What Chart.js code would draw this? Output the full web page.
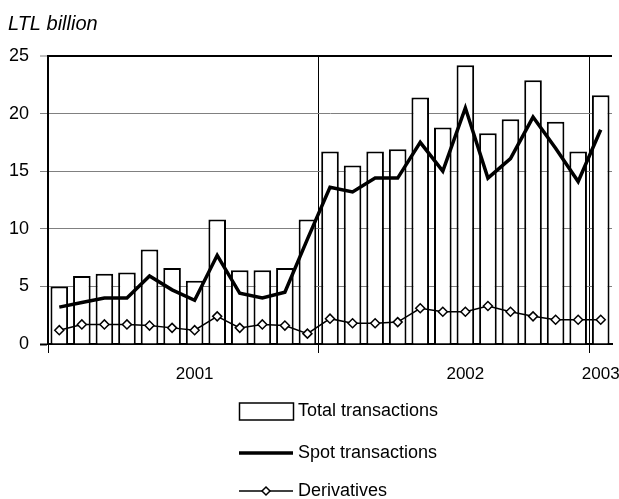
<!DOCTYPE html>
<html><head><meta charset="utf-8">
<script src="https://cdn.jsdelivr.net/npm/chart.js@4/dist/chart.umd.min.js"></script>
<style>html,body{margin:0;padding:0;background:#fff;}#wrap{width:619px;height:499px;position:relative;}</style>
</head><body><div id="wrap"><canvas id="c"></canvas></div>
<script>
const months = ['2001-01','2001-02','2001-03','2001-04','2001-05','2001-06','2001-07','2001-08','2001-09','2001-10','2001-11','2001-12',
                '2002-01','2002-02','2002-03','2002-04','2002-05','2002-06','2002-07','2002-08','2002-09','2002-10','2002-11','2002-12','2003-01'];
const xTickLabels = ['','','','','','','2001','','','','','','','','','','','','2002','','','','','','2003'];
const yTicks = [0,5,10,15,20,25];
const totalTransactions = [5.0,5.9,6.1,6.2,8.2,6.6,5.5,10.8,6.4,6.4,6.6,10.8,16.7,15.5,16.7,16.9,21.4,18.8,24.2,18.3,19.5,22.9,19.3,16.7,21.6];
const spotTransactions  = [3.2,3.6,4.0,4.0,5.9,4.7,3.8,7.7,4.4,4.0,4.5,9.1,13.6,13.2,14.4,14.4,17.5,15.0,20.5,14.4,16.1,19.7,17.0,14.1,18.6];
const derivatives       = [1.2,1.7,1.7,1.7,1.6,1.4,1.2,2.4,1.4,1.7,1.6,0.9,2.2,1.8,1.8,1.9,3.1,2.8,2.8,3.3,2.8,2.4,2.1,2.1,2.1];
const seriesNames = ['Total transactions','Spot transactions','Derivatives'];
const unitLabel = 'LTL billion';

const FONT = '"Liberation Sans Narrow", "Liberation Sans", Arial, sans-serif';
const yearBoundaries = [12, 24];

const extras = {
  id: 'extras',
  afterDraw(chart) {
    const ctx = chart.ctx;
    const ds = chart.data.datasets;
    ctx.save();
    ctx.fillStyle = '#000';
    ctx.textBaseline = 'middle';
    ctx.textAlign = 'left';
    ctx.font = 'italic 20px ' + FONT;
    ctx.fillText(unitLabel, 8, 24);
    ctx.font = '18px ' + FONT;
    const x0 = 239, x1 = 293, tx = 298;
    const rows = [411, 453, 491];
    ctx.fillStyle = ds[0].backgroundColor;
    ctx.strokeStyle = ds[0].borderColor;
    ctx.lineWidth = 1.5;
    ctx.fillRect(x0 + 0.5, rows[0] - 8, x1 - x0, 17);
    ctx.strokeRect(x0 + 0.5, rows[0] - 8, x1 - x0, 17);
    ctx.beginPath();
    ctx.strokeStyle = ds[1].borderColor;
    ctx.lineWidth = ds[1].borderWidth;
    ctx.moveTo(x0, rows[1]); ctx.lineTo(x1, rows[1]); ctx.stroke();
    ctx.beginPath();
    ctx.strokeStyle = ds[2].borderColor;
    ctx.lineWidth = ds[2].borderWidth;
    ctx.moveTo(x0, rows[2]); ctx.lineTo(x1, rows[2]); ctx.stroke();
    const cx = (x0 + x1) / 2, r = 4;
    ctx.beginPath();
    ctx.moveTo(cx, rows[2] - r); ctx.lineTo(cx + r, rows[2]); ctx.lineTo(cx, rows[2] + r); ctx.lineTo(cx - r, rows[2]); ctx.closePath();
    ctx.fillStyle = '#fff'; ctx.fill(); ctx.lineWidth = 1.5; ctx.stroke();
    ctx.fillStyle = '#000';
    seriesNames.forEach((n, i) => ctx.fillText(n, tx, rows[i]));
    ctx.restore();
  }
};

new Chart(document.getElementById('c'), {
  type: 'bar',
  data: {
    labels: months,
    datasets: [
      { type: 'bar', label: seriesNames[0], data: totalTransactions, backgroundColor: '#ffffff', borderColor: '#000000',
        borderWidth: 2, barPercentage: 0.78, categoryPercentage: 1.0, order: 3 },
      { type: 'line', label: seriesNames[1], data: spotTransactions, borderColor: '#000000', borderWidth: 3.5,
        pointRadius: 0, tension: 0, fill: false, order: 1 },
      { type: 'line', label: seriesNames[2], data: derivatives, borderColor: '#000000', borderWidth: 1.5,
        pointStyle: 'rectRot', pointRadius: 4.5, pointBackgroundColor: '#ffffff', pointBorderColor: '#000000',
        pointBorderWidth: 1.5, tension: 0, fill: false, order: 2 }
    ]
  },
  options: {
    responsive: true,
    maintainAspectRatio: false,
    animation: false,
    devicePixelRatio: 1,
    layout: { padding: { top: 56, left: 0, right: 7, bottom: 115 } },
    plugins: { legend: { display: false }, tooltip: { enabled: false }, title: { display: false } },
    scales: {
      x: {
        offset: true,
        afterFit: s => { s.height = 40; s.paddingLeft = 0; s.paddingRight = 0; },
        grid: {
          offset: true,
          drawOnChartArea: true,
          color: c => (yearBoundaries.includes(c.index) ? '#000000' : (c.index === months.length ? '#808080' : 'rgba(0,0,0,0)')),
          lineWidth: c => (c.index === months.length ? 2 : 1),
          tickColor: c => (c.index === 0 || yearBoundaries.includes(c.index) ? '#000000' : 'rgba(0,0,0,0)'),
          tickLength: 9,
          tickWidth: 1
        },
        border: { display: true, color: '#000000', width: 2 },
        ticks: {
          autoSkip: false, maxRotation: 0, minRotation: 0, padding: 11,
          color: '#000', font: { family: FONT, size: 17 },
          callback: (v, i) => xTickLabels[i]
        }
      },
      y: {
        min: 0, max: 25,
        afterFit: s => { s.width = 48; },
        afterBuildTicks: s => { s.ticks = yTicks.map(v => ({ value: v })); },
        grid: {
          color: c => (c.tick && (c.tick.value === 25 || c.tick.value === 0) ? '#000000' : '#808080'),
          lineWidth: c => (c.tick && c.tick.value === 25 ? 2 : 1),
          tickColor: c => (c.tick && c.tick.value === 0 ? '#000000' : '#808080'),
          tickWidth: c => (c.tick && c.tick.value === 0 ? 2 : 1),
          tickLength: 8
        },
        border: { display: true, color: '#000000', width: 2 },
        ticks: { padding: 11, color: '#000', font: { family: FONT, size: 18 } }
      }
    }
  },
  plugins: [extras]
});
</script></body></html>
